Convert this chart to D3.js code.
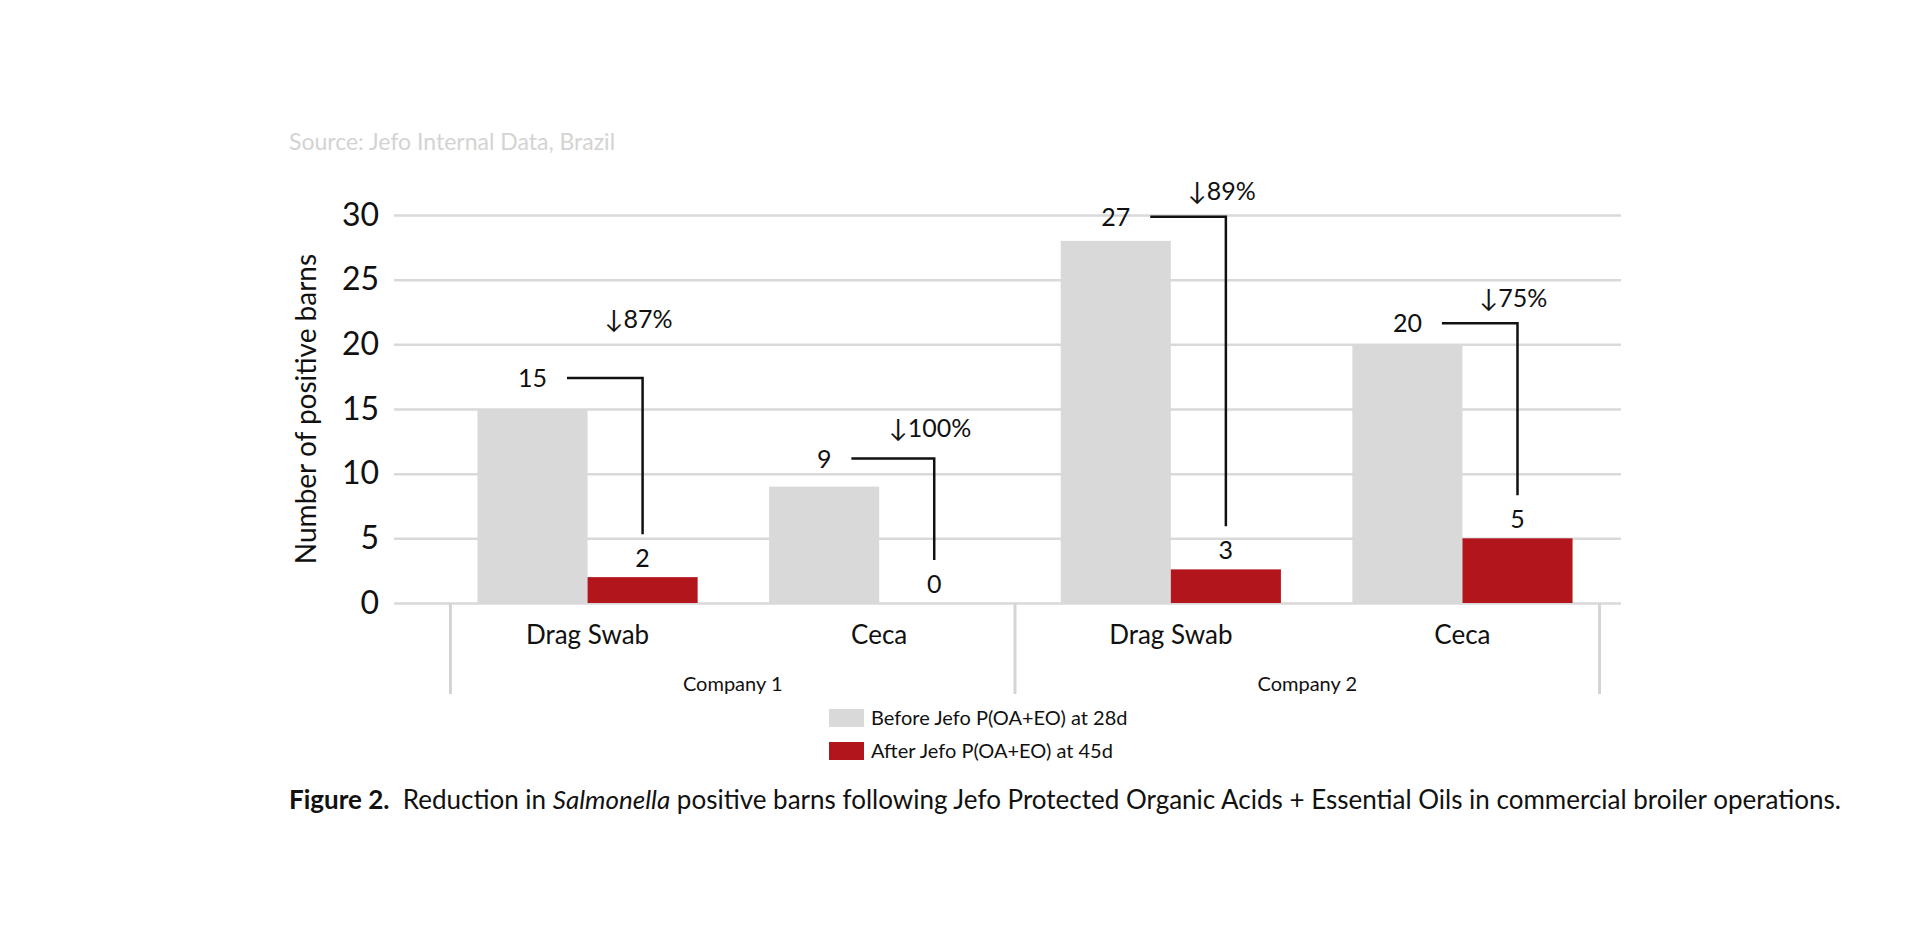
<!DOCTYPE html>
<html>
<head>
<meta charset="utf-8">
<script src="https://cdn.jsdelivr.net/npm/d3@7/dist/d3.min.js"></script>
<style>
  body { margin: 0; background: #fff; }
  svg { display: block; font-family: Lato, "Open Sans", sans-serif; }
</style>
</head>
<body>
<svg id="chart" width="1918" height="930"></svg>
<script>
// data
const categories = ["Drag Swab", "Ceca", "Drag Swab", "Ceca"];
const companies = ["Company 1", "Company 2"];
// bar heights as drawn in the picture
const before = [15, 9, 28, 20];
const after = [2, 0, 2.6, 5];
// value labels as printed
const beforeLabels = ["15", "9", "27", "20"];
const afterLabels = ["2", "0", "3", "5"];
const reductions = ["↓87%", "↓100%", "↓89%", "↓75%"];
const yTicks = [0, 5, 10, 15, 20, 25, 30];
const seriesNames = ["Before Jefo P(OA+EO) at 28d", "After Jefo P(OA+EO) at 45d"];

const grey = "#d9d9d9";
const red = "#b3151c";

const svg = d3.select("#chart");

// scales
const x = d3.scaleBand()
	.domain(d3.range(categories.length))
	.range([441, 1609])
	.paddingInner(0.245)
	.paddingOuter(0.125);
const bw = x.bandwidth();
const y = d3.scaleLinear().domain([0, 30]).range([603, 215]);

// source
svg.append("text")
	.attr("x", 289).attr("y", 150)
	.attr("font-size", 23)
	.attr("fill", "#d3d3d3")
	.text("Source: Jefo Internal Data, Brazil");

// y axis + grid
const yAxis = svg.append("g")
	.attr("transform", "translate(394,0)")
	.call(d3.axisLeft(y).tickValues(yTicks).tickSize(-1227).tickPadding(15))
yAxis.select(".domain").remove();
yAxis.selectAll(".tick line").attr("stroke", grey).attr("stroke-width", 2.5);
yAxis.selectAll(".tick text")
	.attr("font-size", 32)
	.attr("fill", "#111")
	.attr("font-family", "Lato, sans-serif");

svg.append("text")
	.attr("transform", `translate(316,${(y(0) + y(30)) / 2}) rotate(-90)`)
	.attr("text-anchor", "middle")
	.attr("font-size", 28)
	.attr("fill", "#111")
	.text("Number of positive barns");

// bars
const bars = svg.append("g");
bars.selectAll(".before")
	.data(before)
	.join("rect")
	.attr("x", (d, i) => x(i))
	.attr("y", d => y(d))
	.attr("width", bw / 2)
	.attr("height", d => y(0) - y(d))
	.attr("fill", grey);
bars.selectAll(".after")
	.data(after)
	.join("rect")
	.attr("x", (d, i) => x(i) + bw / 2)
	.attr("y", d => y(d))
	.attr("width", bw / 2)
	.attr("height", d => y(0) - y(d))
	.attr("fill", red);

// category brackets
const brackX = [x(0) - 27, (x(1) + bw + x(2)) / 2 - 10, x(3) + bw + 27];
svg.append("g").selectAll("line")
	.data(brackX)
	.join("line")
	.attr("x1", d => d).attr("x2", d => d)
	.attr("y1", y(0)).attr("y2", y(0) + 91)
	.attr("stroke", "#d4d4d4").attr("stroke-width", 3);

svg.append("g").selectAll("text")
	.data(categories)
	.join("text")
	.attr("x", (d, i) => x(i) + bw / 2)
	.attr("y", 644)
	.attr("text-anchor", "middle")
	.attr("font-size", 26)
	.attr("fill", "#111")
	.text(d => d);

svg.append("g").selectAll("text")
	.data(companies)
	.join("text")
	.attr("x", (d, i) => (brackX[i] + brackX[i + 1]) / 2)
	.attr("y", 691)
	.attr("text-anchor", "middle")
	.attr("font-size", 20)
	.attr("fill", "#111")
	.text(d => d);

// annotations (elbow connectors)
const lineLift = [31, 28, 24, 21];
const pctLift = [59, 31, 26, 25];
const ann = svg.append("g").attr("fill", "#111");
before.forEach((b, i) => {
	const gx = x(i) + bw / 4;
	const rx = x(i) + bw * 3 / 4;
	const lineY = y(b) - lineLift[i];
	const lab = ann.append("text")
		.attr("x", gx).attr("y", lineY + 9)
		.attr("text-anchor", "middle")
		.attr("font-size", 25)
		.text(beforeLabels[i]);
	const lw = lab.node().getComputedTextLength();
	const redY = y(after[i]) - 19;
	ann.append("text")
		.attr("x", rx).attr("y", redY + 9)
		.attr("text-anchor", "middle")
		.attr("font-size", 25)
		.text(afterLabels[i]);
	ann.append("path")
		.attr("d", `M${gx + lw / 2 + 20},${lineY}H${rx}V${redY - 24}`)
		.attr("fill", "none")
		.attr("stroke", "#111")
		.attr("stroke-width", 2.5);
	ann.append("text")
		.attr("x", rx - 4).attr("y", lineY - pctLift[i] + 9)
		.attr("text-anchor", "middle")
		.attr("font-size", 25)
		.text(reductions[i]);
});

// legend
const leg = svg.append("g").attr("transform", "translate(829,709)");
leg.selectAll("rect")
	.data(seriesNames)
	.join("rect")
	.attr("x", 0).attr("y", (d, i) => i * 33)
	.attr("width", 35).attr("height", 18)
	.attr("fill", (d, i) => i ? red : grey);
leg.selectAll("text")
	.data(seriesNames)
	.join("text")
	.attr("x", 42).attr("y", (d, i) => i * 33 + 16)
	.attr("font-size", 20)
	.attr("fill", "#111")
	.text(d => d);

// caption
const cap = svg.append("text")
	.attr("x", 289).attr("y", 809)
	.attr("font-size", 20)
	.attr("fill", "#111")
	.attr("xml:space", "preserve");
cap.append("tspan").attr("font-weight", "bold").text("Figure 2.");
cap.append("tspan").text("  Reduction in ");
cap.append("tspan").attr("font-style", "italic").text("Salmonella");
cap.append("tspan").text(" positive barns following Jefo Protected Organic Acids + Essential Oils in commercial broiler operations.");
const capW = cap.node().getComputedTextLength();
cap.attr("font-size", 20 * 1552 / capW);
</script>
</body>
</html>
